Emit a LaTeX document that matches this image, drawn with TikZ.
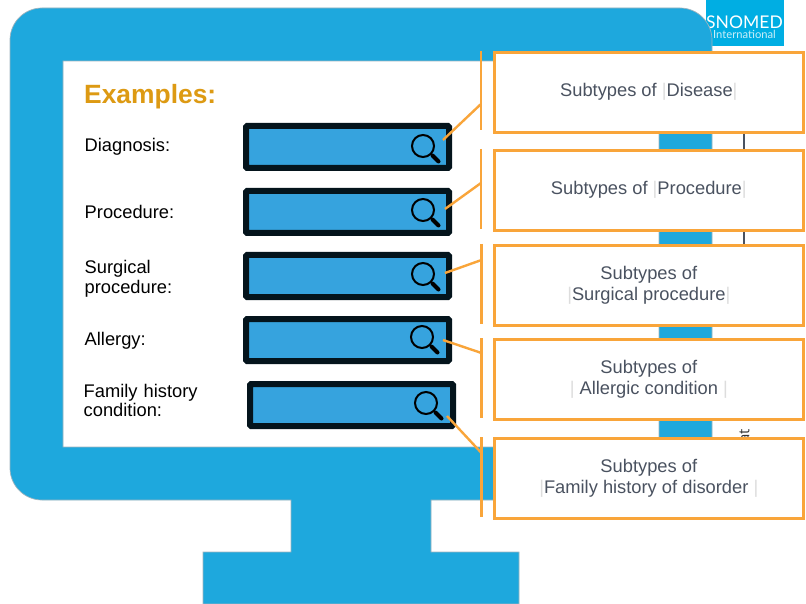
\documentclass[tikz,border=0pt]{standalone}
\usepackage{fontspec}
\setmainfont{Liberation Sans}
\newfontfamily\logofont{Lato}
\newfontfamily\sidefont{Open Sans}
\definecolor{monitor}{HTML}{1EA8DD}
\definecolor{edge}{HTML}{9FB4BE}
\definecolor{barfill}{HTML}{36A3DE}
\definecolor{barline}{HTML}{04141C}
\definecolor{callout}{HTML}{F9A53A}
\definecolor{slate}{HTML}{4A5260}
\definecolor{pipe}{HTML}{DDDDDD}
\definecolor{gold}{HTML}{DD9A13}
\definecolor{logoblue}{HTML}{00AEE3}
\newcommand{\px}[1]{\fontsize{#1}{#1}\selectfont}
\newcommand{\pipebar}{\textcolor{pipe}{|}}
\tikzset{
  x=1pt,y=-1pt,
  searchbar/.style={draw=barline,fill=barfill,line width=6pt,rounded corners=1pt,anchor=north west,minimum width=203pt,minimum height=42pt,inner sep=0pt,outer sep=0pt},
  lens/.style={draw=black,line width=2pt,circle,minimum size=22pt,inner sep=0pt,outer sep=0pt},
  handle/.style={black,line width=4pt,line cap=round},
  calloutbox/.style={draw=callout,fill=white,line width=2.6pt,anchor=north west,minimum width=309pt,minimum height=80pt,inner sep=0pt,align=center,text=slate,font=\px{18.3}},
  bracketbar/.style={draw=callout,line width=2.6pt},
  link/.style={draw=callout,line width=2.4pt},
  fieldlabel/.style={anchor=west,inner sep=0pt,align=left,text=black,font=\px{18.3}},
  sidetext/.style={rotate=90,inner sep=0pt,text=black!80,font=\sidefont\px{15}}
}
\begin{document}
\begin{tikzpicture}
\useasboundingbox (0,0) rectangle (806,604);
\fill[white] (0,0) rectangle (806,604);
% logo
\fill[logoblue] (706,0) rectangle (784,46);
\node[inner sep=0pt,text=white,font=\logofont\px{17.5}] (logoa) at (744.5,22) {SNOMED};
\node[inner sep=0pt,text=white!80!logoblue,font=\logofont\px{11.2}] (logob) at (744.5,34.5) {International};
% monitor
\draw[edge,fill=monitor,line width=.7pt,even odd rule,rounded corners=0pt]
  (42,8) -- (680,8) arc[start angle=-90,end angle=0,radius=32] -- (712,468) arc[start angle=0,end angle=90,radius=-0]
  -- (712,500) -- (431,500) -- (431,552) -- (519,552) -- (519,604) -- (203,604) -- (203,552) -- (291,552) -- (291,500) -- (42,500)
  arc[start angle=90,end angle=180,radius=32] -- (10,40) arc[start angle=180,end angle=270,radius=32] -- cycle
  (63,61) rectangle (659,447);
% side text behind the call-outs
\draw[draw=slate,line width=2.6pt] (744,125) -- (744,250);
\node[sidetext,anchor=west] (sa) at (744,522) {MED Internat};
\node[sidetext,anchor=west] (sb) at (744,420) {rin};
\node[sidetext,anchor=west] (sc) at (744,328) {T};
% labels
\node[anchor=west,inner sep=0pt,text=gold,font=\bfseries\px{26.4}] (ex) at (84,97) {Examples:};
\node[fieldlabel] (l1) at (84.5,147) {Diagnosis:};
\node[fieldlabel] (l2) at (84.5,212) {Procedure:};
\node[fieldlabel,text width=110pt] (l3) at (84.5,278.5) {Surgical\\[1.5pt]procedure:};
\node[fieldlabel] (l4) at (84.5,341) {Allergy:};
\node[fieldlabel,text width=130pt] (l5) at (83.5,400.5) {Family history\\[1.5pt]condition:};
% search bars
\node[searchbar] (b1) at (246,126) {};
\node[searchbar] (b2) at (246,191) {};
\node[searchbar] (b3) at (246,255) {};
\node[searchbar] (b4) at (246,319) {};
\node[searchbar] (b5) at (250,384) {};
\foreach \n/\cx/\cy in {1/423/146,2/423/210,3/423/274,4/422/337,5/426/403}{
  \node[lens] (g\n) at (\cx,\cy) {};
  \coordinate (h\n) at (\cx+15.5,\cy+15.5);
  \draw[handle] (\cx+9.5,\cy+9.5) -- (h\n);
}
% call-outs
\node[calloutbox] (c1) at (493,51) {Subtypes of \pipebar Disease\pipebar};
\node[calloutbox] (c2) at (493,149) {Subtypes of \pipebar Procedure\pipebar};
\node[calloutbox] (c3) at (493,244) {Subtypes of\\[1.8pt]\pipebar Surgical procedure\pipebar};
\node[calloutbox] (c4) at (493,338) {Subtypes of\\[1.8pt]\pipebar\ Allergic condition \pipebar};
\node[calloutbox] (c5) at (493,437) {Subtypes of\\[1.8pt]\pipebar Family history of disorder \pipebar};
% brackets and links
\foreach \n/\ya/\yb/\xa/\ym/\sx/\sy in {1/51/130/481/104/443/140,2/149/229/481/183/445/209,3/244/324/481.5/260/445/273,4/338/418/481.5/353/443/340,5/437/517/481.5/453/447/416}{
  \coordinate (t\n) at (\xa,\ya);
  \coordinate (u\n) at (\xa,\yb);
  \coordinate (m\n) at (\xa,\ym);
  \coordinate (s\n) at (\sx,\sy);
  \draw[bracketbar] (t\n) -- (u\n);
  \draw[link] (s\n) -- (m\n);
}
\end{tikzpicture}
\end{document}
